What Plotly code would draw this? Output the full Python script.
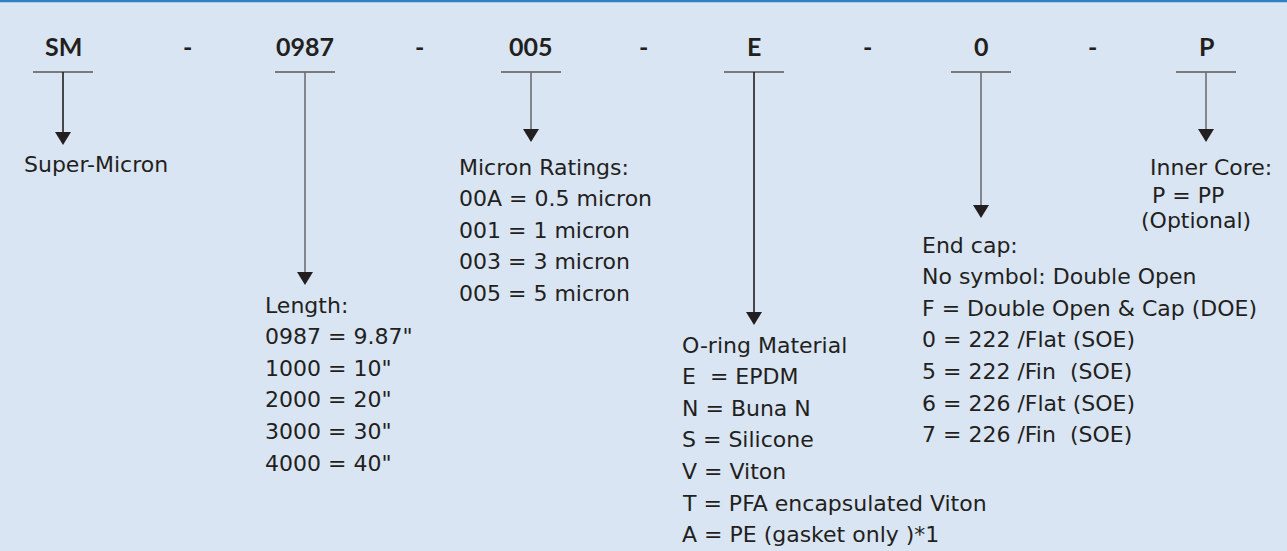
import plotly.graph_objects as go

# ---- content (data) ----
codes = ["SM", "0987", "005", "E", "0", "P"]
separator = "-"
super_micron = ["Super-Micron"]
micron_ratings = ["Micron Ratings:", "00A = 0.5 micron", "001 = 1 micron",
                  "003 = 3 micron", "005 = 5 micron"]
length_opts = ["Length:", "0987 = 9.87\"", "1000 = 10\"", "2000 = 20\"",
               "3000 = 30\"", "4000 = 40\""]
oring_opts = ["O-ring Material", "E\u00a0 = EPDM", "N = Buna N", "S = Silicone",
              "V = Viton", "T = PFA encapsulated Viton", "A = PE (gasket only )*1"]
endcap_opts = ["End cap:", "No symbol: Double Open", "F = Double Open & Cap (DOE)",
               "0 = 222 /Flat (SOE)", "5 = 222 /Fin\u00a0 (SOE)",
               "6 = 226 /Flat (SOE)", "7 = 226 /Fin\u00a0 (SOE)"]
core_opts = ["Inner Core:", "P = PP", "(Optional)"]

# ---- layout / style constants ----
W, H = 1287, 551
BG = "#d9e5f3"
TXT = "#231f20"
GRAY = "#6d6e71"
BODY_FONT = "DejaVu Sans"
CODE_FONT = "Lato"
BODY_SIZE = 22
code_x = [63, 305, 531, 754, 981, 1206]
dash_x = [187, 419, 643, 867, 1092]
code_y = 46
underline_y = 72
tip_y = [145, 285, 142, 325, 218, 142]
stem_color = [TXT, GRAY, GRAY, TXT, GRAY, GRAY]
ARROW_H = 13
LS = 31.6

blocks = [
    (super_micron, 22, 164, LS),
    (micron_ratings, 457, 167, LS),
    (length_opts, 263, 305, LS),
    (oring_opts, 680, 345, LS),
    (endcap_opts, 920, 245, LS),
]

fig = go.Figure()

shapes = []
# top blue rule
shapes.append(dict(type="line", x0=0, x1=W, y0=1, y1=1,
                   line=dict(color="#2f7fc1", width=2.5)))
for cx, ty, col in zip(code_x, tip_y, stem_color):
    shapes.append(dict(type="line", x0=cx - 30, x1=cx + 30, y0=underline_y, y1=underline_y,
                       line=dict(color="#7a7b7e", width=2)))
    shapes.append(dict(type="line", x0=cx, x1=cx, y0=underline_y, y1=ty - ARROW_H + 2,
                       line=dict(color=col, width=1.6)))
    shapes.append(dict(type="path",
                       path=f"M {cx-8},{ty-ARROW_H} L {cx+8},{ty-ARROW_H} L {cx},{ty} Z",
                       fillcolor=TXT, line=dict(width=0)))

annotations = []
for c, cx in zip(codes, code_x):
    annotations.append(dict(x=cx, y=code_y, text=c, showarrow=False, xanchor="center",
                            yanchor="middle", font=dict(family=CODE_FONT, size=25, color=TXT, weight=700)))
for dx in dash_x:
    annotations.append(dict(x=dx, y=code_y, text=separator, showarrow=False, xanchor="center",
                            yanchor="middle", font=dict(family=CODE_FONT, size=25, color=TXT, weight=700)))

for lines, x0, y0, ls in blocks:
    for i, t in enumerate(lines):
        annotations.append(dict(x=x0, y=y0 + i * ls, text=t, showarrow=False, xanchor="left",
                                yanchor="middle", font=dict(family=BODY_FONT, size=BODY_SIZE, color=TXT)))

core_x = [1148, 1150, 1139]
core_y = [167, 195, 220]
for t, x, y in zip(core_opts, core_x, core_y):
    annotations.append(dict(x=x, y=y, text=t, showarrow=False, xanchor="left",
                            yanchor="middle", font=dict(family=BODY_FONT, size=BODY_SIZE, color=TXT)))

fig.update_layout(
    width=W, height=H, margin=dict(l=0, r=0, t=0, b=0),
    paper_bgcolor=BG, plot_bgcolor=BG, showlegend=False,
    xaxis=dict(range=[0, W], visible=False, fixedrange=True),
    yaxis=dict(range=[H, 0], visible=False, fixedrange=True),
    shapes=shapes, annotations=annotations,
)

fig.write_html("out.html", config={"displayModeBar": False},
               post_script="document.body.style.margin='0';document.body.style.overflow='hidden';document.body.style.background='%s';" % BG)
